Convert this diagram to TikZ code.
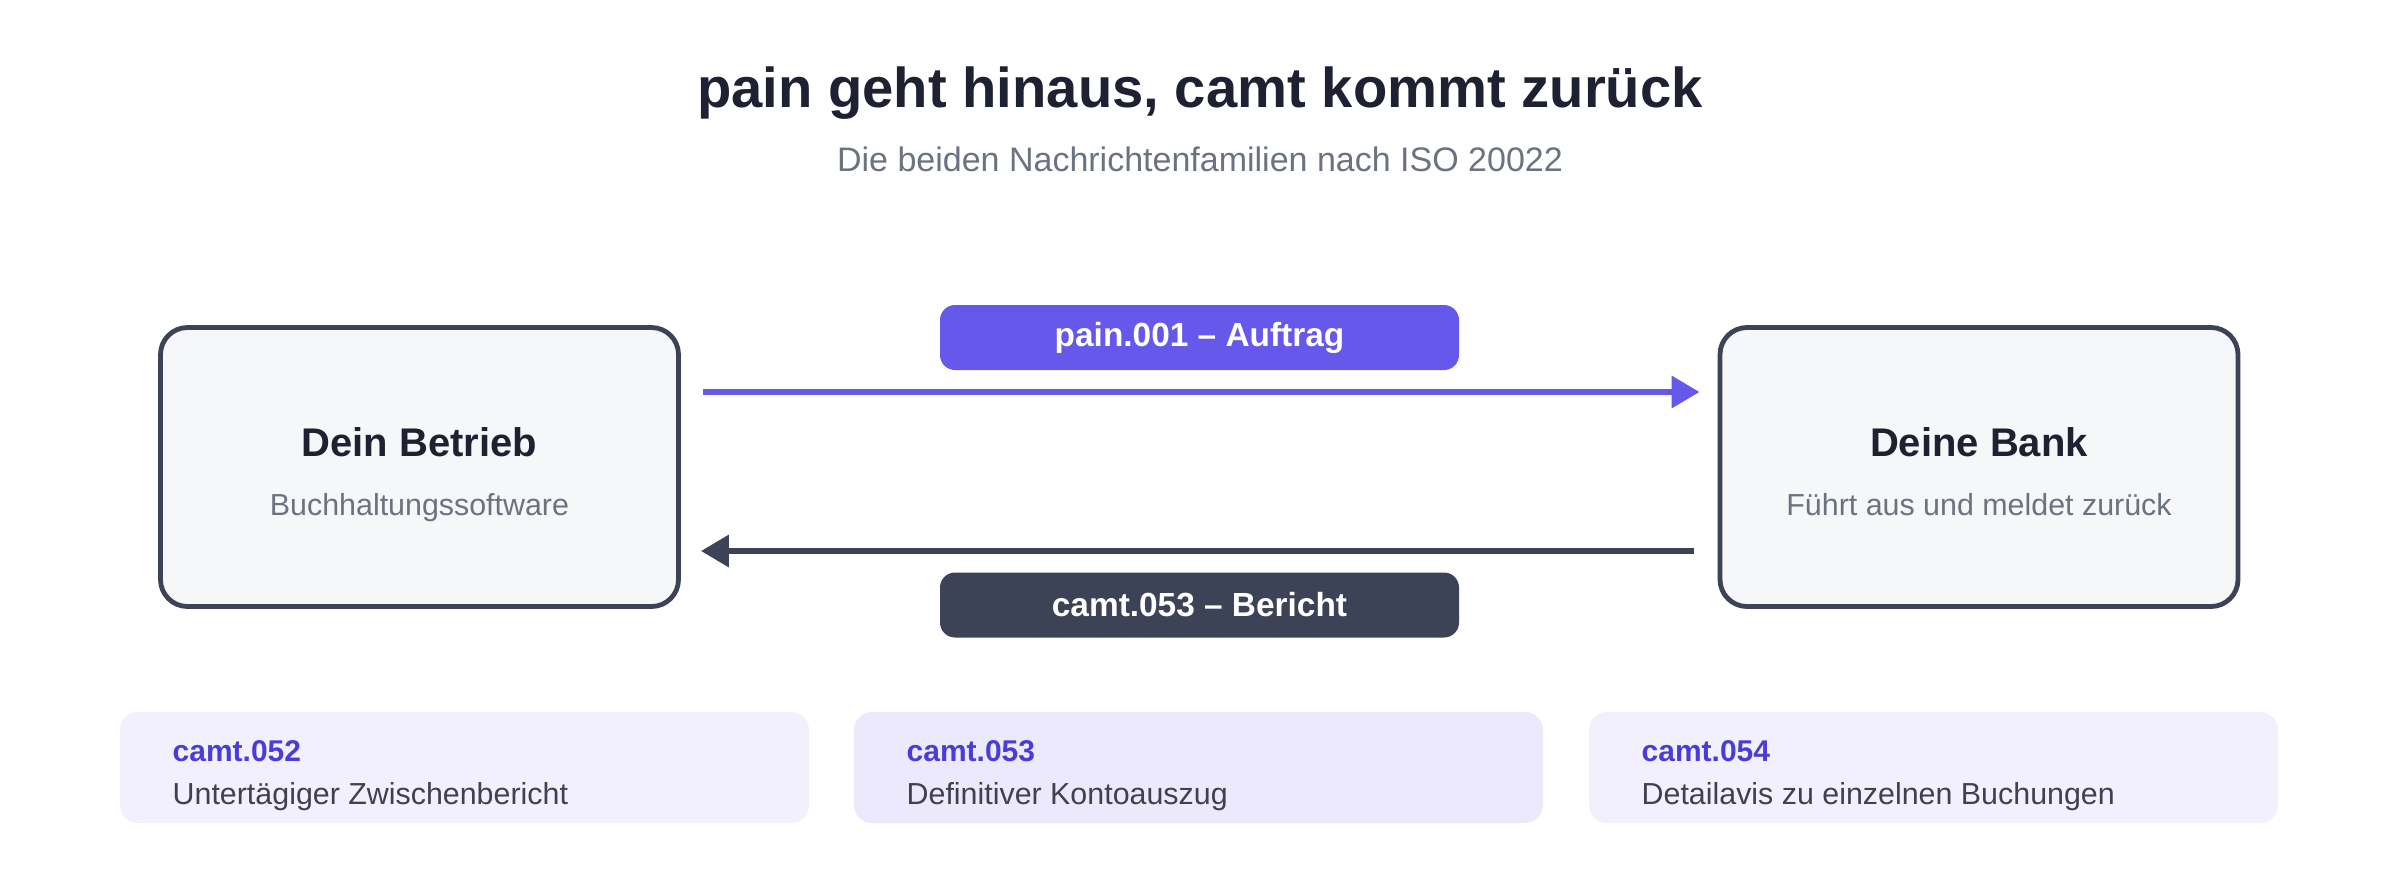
\documentclass[tikz,border=0pt]{standalone}
\usepackage{fontspec}
\setmainfont{Liberation Sans}
\usetikzlibrary{arrows.meta}
\definecolor{ink}{HTML}{1E2132}
\definecolor{muted}{HTML}{6B7280}
\definecolor{slate}{HTML}{3C4356}
\definecolor{boxfill}{HTML}{F6F7F9}
\definecolor{violet}{HTML}{6558EA}
\definecolor{violetdark}{HTML}{4A3CD6}
\definecolor{cardA}{HTML}{F2F0FD}
\definecolor{cardB}{HTML}{ECE9FC}
\definecolor{cardtext}{HTML}{3F4150}
\tikzset{
  party/.style = {draw = slate, line width = 2.4pt, fill = boxfill, rounded corners = 13.5pt,
                  minimum width = 259pt, minimum height = 139.5pt, inner sep = 0pt},
  partyname/.style = {anchor = base, text = ink, font = \fontsize{20}{24}\selectfont\bfseries},
  partysub/.style = {anchor = base, text = muted, font = \fontsize{15.2}{18}\selectfont},
  pill/.style = {rounded corners = 7.5pt, minimum width = 259.5pt, minimum height = 32.5pt,
                 inner sep = 0pt, text = white, font = \fontsize{16.7}{20}\selectfont\bfseries},
  flow/.style = {line width = 3.2pt, -{Triangle[length = 14pt, width = 15.5pt]}},
  card/.style = {rounded corners = 9pt, minimum width = 344.5pt, minimum height = 55.5pt, inner sep = 0pt},
  cardcode/.style = {anchor = base west, text = violetdark, font = \fontsize{15}{18}\selectfont\bfseries},
  carddesc/.style = {anchor = base west, text = cardtext, font = \fontsize{15.2}{18}\selectfont}
}
\begin{document}
\begin{tikzpicture}[x = 0.5pt, y = -0.5pt]
\useasboundingbox[fill = white] (0, 0) rectangle (2400, 880);
\node[anchor = base, text = ink, font = \fontsize{28.1}{34}\selectfont\bfseries] (title) at (1200, 107) {pain geht hinaus, camt kommt zurück};
\node[anchor = base, text = muted, font = \fontsize{17}{20}\selectfont] (subtitle) at (1200, 171) {Die beiden Nachrichtenfamilien nach ISO 20022};
\node[party] (betrieb) at (419.5, 467) {};
\node[partyname] (betriebname) at (419.5, 456) {Dein Betrieb};
\node[partysub] (betriebsub) at (419.5, 515) {Buchhaltungssoftware};
\node[party] (bank) at (1979, 467) {};
\node[partyname] (bankname) at (1979, 456) {Deine Bank};
\node[partysub] (banksub) at (1979, 515) {Führt aus und meldet zurück};
\node[pill, fill = violet] (auftrag) at (1199.5, 337.5) {pain.001 – Auftrag};
\node[pill, fill = slate] (bericht) at (1199.5, 605) {camt.053 – Bericht};
\draw[flow, violet] ([xshift = 11pt, yshift = 37.5pt]betrieb.east) -- ([xshift = -9pt, yshift = 37.5pt]bank.west);
\draw[flow, slate] ([xshift = -12pt, yshift = -42pt]bank.west) -- ([xshift = 10pt, yshift = -42pt]betrieb.east);
\node[card, fill = cardA] (card052) at (464.5, 767.5) {};
\node[cardcode] (code052) at ([xshift = 23pt]card052.west |- 0, 761) {camt.052};
\node[carddesc] (desc052) at ([xshift = 23pt]card052.west |- 0, 804) {Untertägiger Zwischenbericht};
\node[card, fill = cardB] (card053) at (1198.5, 767.5) {};
\node[cardcode] (code053) at ([xshift = 23pt]card053.west |- 0, 761) {camt.053};
\node[carddesc] (desc053) at ([xshift = 23pt]card053.west |- 0, 804) {Definitiver Kontoauszug};
\node[card, fill = cardA] (card054) at (1933.5, 767.5) {};
\node[cardcode] (code054) at ([xshift = 23pt]card054.west |- 0, 761) {camt.054};
\node[carddesc] (desc054) at ([xshift = 23pt]card054.west |- 0, 804) {Detailavis zu einzelnen Buchungen};
\end{tikzpicture}
\end{document}
